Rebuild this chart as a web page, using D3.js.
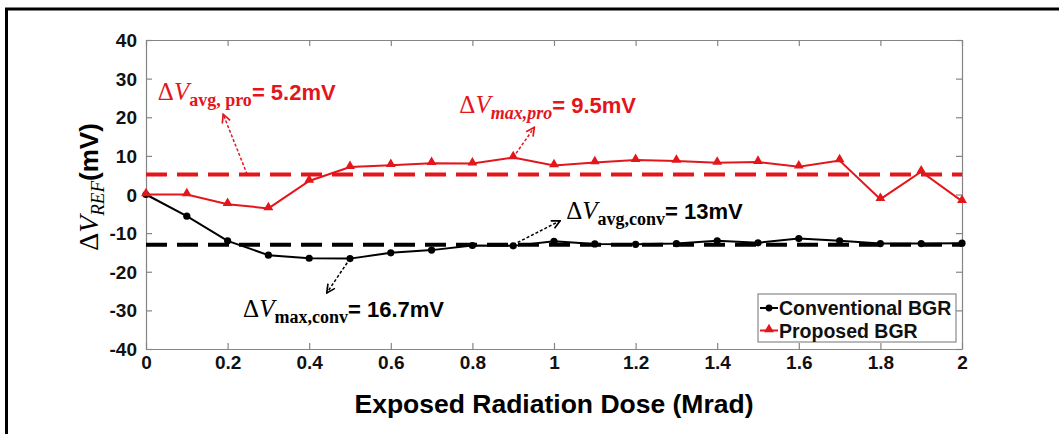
<!DOCTYPE html>
<html>
<head>
<meta charset="utf-8">
<script src="https://cdn.jsdelivr.net/npm/d3@7"></script>
<style>
  body { margin: 0; background: #fff; }
  svg { display: block; }
  text { font-family: Arial, "Liberation Sans", sans-serif; }
</style>
</head>
<body>
<svg id="chart" width="1059" height="434"></svg>
<script>
// data
var dose = [0, 0.1, 0.2, 0.3, 0.4, 0.5, 0.6, 0.7, 0.8, 0.9, 1.0, 1.1, 1.2, 1.3, 1.4, 1.5, 1.6, 1.7, 1.8, 1.9, 2.0];
var convBGR = [0, -5.6, -12, -15.7, -16.5, -16.6, -15.1, -14.4, -13.2, -13.3, -12.1, -12.8, -12.9, -12.7, -12, -12.5, -11.4, -12, -12.7, -12.7, -12.6];
var propBGR = [0, 0, -2.5, -3.6, 3.5, 7.1, 7.6, 8.1, 8, 9.6, 7.5, 8.3, 8.9, 8.7, 8.2, 8.4, 7.2, 8.8, -1.2, 5.9, -1.7];
var avgConv = -13, avgPro = 5.2;
var xTicks = [0, 0.2, 0.4, 0.6, 0.8, 1, 1.2, 1.4, 1.6, 1.8, 2];
var yTicks = [-40, -30, -20, -10, 0, 10, 20, 30, 40];
var legendNames = ["Conventional BGR", "Proposed BGR"];

var RED = "#e3161c", BLK = "#000";
var margin = {left: 146, top: 40, right: 962, bottom: 349};

var svg = d3.select("#chart");
var x = d3.scaleLinear().domain([0, 2]).range([margin.left, margin.right]);
var y = d3.scaleLinear().domain([-40, 40]).range([margin.bottom, margin.top]);

// outer frame of the figure
svg.append("rect").attr("x", 6.5).attr("y", 9).attr("width", 1100).attr("height", 500)
  .attr("fill", "none").attr("stroke", "#000").attr("stroke-width", 3);

// axes, matlab-like box with inward ticks
var axColor = "#858585";
function styleAxis(g) {
  g.select(".domain").attr("stroke", axColor).attr("stroke-width", 1.2);
  g.selectAll(".tick line").attr("stroke", axColor).attr("stroke-width", 1.2);
  g.selectAll(".tick text").attr("fill", "#111").attr("dy", null)
    .style("font-size", "19px").style("font-weight", "bold");
}
var fmt = function (d) { return String(d); }; // plain hyphen minus like the figure
svg.append("g").attr("transform", "translate(0," + margin.bottom + ")")
  .call(d3.axisBottom(x).tickValues(xTicks).tickFormat(fmt).tickSizeInner(-6).tickSizeOuter(0).tickPadding(6))
  .call(styleAxis)
  .selectAll(".tick text").attr("dominant-baseline", "hanging");
svg.append("g").attr("transform", "translate(0," + margin.top + ")")
  .call(d3.axisTop(x).tickValues(xTicks).tickSizeInner(-6).tickSizeOuter(0))
  .call(styleAxis)
  .selectAll(".tick text").remove();
svg.append("g").attr("transform", "translate(" + margin.left + ",0)")
  .call(d3.axisLeft(y).tickValues(yTicks).tickFormat(fmt).tickSizeInner(-6).tickSizeOuter(0).tickPadding(9))
  .call(styleAxis)
  .selectAll(".tick text").attr("dominant-baseline", "central");
svg.append("g").attr("transform", "translate(" + margin.right + ",0)")
  .call(d3.axisRight(y).tickValues(yTicks).tickSizeInner(-6).tickSizeOuter(0))
  .call(styleAxis)
  .selectAll(".tick text").remove();

// axis titles
svg.append("text").attr("x", 554).attr("y", 413).attr("text-anchor", "middle")
  .style("font-size", "26.5px").style("font-weight", "bold").text("Exposed Radiation Dose (Mrad)");

var serif = "'Liberation Serif', 'DejaVu Serif', serif";
var yt = svg.append("text").attr("transform", "translate(98,187) rotate(-90)").attr("text-anchor", "middle");
yt.append("tspan").style("font-family", serif).style("font-size", "28px").text("Δ");
yt.append("tspan").style("font-family", serif).style("font-style", "italic").style("font-size", "28px").text("V");
yt.append("tspan").attr("dy", 6).style("font-family", serif).style("font-style", "italic").style("font-size", "19px").text("REF");
yt.append("tspan").attr("dy", -6).style("font-size", "26px").style("font-weight", "bold").text("(mV)");

// average lines
var avgLines = [{v: avgPro, c: RED}, {v: avgConv, c: BLK}];
svg.selectAll(".avg").data(avgLines).enter().append("line").attr("class", "avg")
  .attr("x1", x(0)).attr("x2", x(2)).attr("y1", function (d) { return y(d.v); }).attr("y2", function (d) { return y(d.v); })
  .attr("stroke", function (d) { return d.c; }).attr("stroke-width", 4).attr("stroke-dasharray", "21,10");

// series
var line = d3.line().x(function (d) { return x(d[0]); }).y(function (d) { return y(d[1]); });
var convPts = d3.zip(dose, convBGR), propPts = d3.zip(dose, propBGR);
var tri = d3.symbol().type(d3.symbolTriangle).size(42);

svg.append("path").datum(convPts).attr("d", line).attr("fill", "none").attr("stroke", BLK).attr("stroke-width", 2);
svg.selectAll(".cdot").data(convPts).enter().append("circle").attr("class", "cdot")
  .attr("cx", function (d) { return x(d[0]); }).attr("cy", function (d) { return y(d[1]); }).attr("r", 3.6).attr("fill", BLK);

svg.append("path").datum(propPts).attr("d", line).attr("fill", "none").attr("stroke", RED).attr("stroke-width", 2);
svg.selectAll(".ptri").data(propPts).enter().append("path").attr("class", "ptri").attr("d", tri)
  .attr("transform", function (d) { return "translate(" + x(d[0]) + "," + (y(d[1]) - 1) + ")"; }).attr("fill", RED);

// annotations: arrow tail on the data, tip near the label
var defs = svg.append("defs");
[["arRed", RED], ["arBlk", BLK]].forEach(function (m) {
  defs.append("marker").attr("id", m[0]).attr("viewBox", "0 0 10 10").attr("refX", 9).attr("refY", 5)
    .attr("markerWidth", 7).attr("markerHeight", 7).attr("orient", "auto")
    .append("path").attr("d", "M1,1 L9,5 L1,9").attr("fill", "none").attr("stroke", m[1]).attr("stroke-width", 1.6);
});
var arrows = [
  {from: [0.248, avgPro], to: [0.189, 20.8], c: RED, m: "arRed"},
  {from: [0.9, 9.6], to: [0.952, 17.4], c: RED, m: "arRed"},
  {from: [0.9, avgConv], to: [1.015, -6.8], c: BLK, m: "arBlk"},
  {from: [0.5, -16.6], to: [0.443, -25.5], c: BLK, m: "arBlk"}
];
svg.selectAll(".arrow").data(arrows).enter().append("line").attr("class", "arrow")
  .attr("x1", function (d) { return x(d.from[0]); }).attr("y1", function (d) { return y(d.from[1]); })
  .attr("x2", function (d) { return x(d.to[0]); }).attr("y2", function (d) { return y(d.to[1]); })
  .attr("stroke", function (d) { return d.c; }).attr("stroke-width", 1.5).attr("stroke-dasharray", "3,2")
  .attr("marker-end", function (d) { return "url(#" + d.m + ")"; });

var labels = [
  {at: [0.029, 24.5], sub: "avg, pro", subItalic: false, val: "= 5.2mV", c: RED},
  {at: [0.768, 21.0], sub: "max,pro", subItalic: true, val: "= 9.5mV", c: RED},
  {at: [1.03, -6.4], sub: "avg,conv", subItalic: false, val: "= 13mV", c: BLK},
  {at: [0.238, -31.7], sub: "max,conv", subItalic: false, val: "= 16.7mV", c: BLK}
];
labels.forEach(function (l) {
  var t = svg.append("text").attr("x", x(l.at[0])).attr("y", y(l.at[1])).attr("fill", l.c);
  t.append("tspan").style("font-family", serif).style("font-size", "25px").text("Δ");
  t.append("tspan").style("font-family", serif).style("font-style", "italic").style("font-size", "25px").text("V");
  t.append("tspan").attr("dy", 6).style("font-family", serif).style("font-weight", "bold")
    .style("font-style", l.subItalic ? "italic" : "normal").style("font-size", "18px").text(l.sub);
  t.append("tspan").attr("dy", -6).style("font-weight", "bold").style("font-size", "22px").text(l.val);
});

// legend
var lg = svg.append("g").attr("transform", "translate(758,294)");
lg.append("rect").attr("width", 198).attr("height", 48).attr("fill", "#fff").attr("stroke", "#8a8a8a").attr("stroke-width", 1.2);
var items = lg.selectAll(".item").data(legendNames).enter().append("g").attr("class", "item")
  .attr("transform", function (d, i) { return "translate(0," + (14 + i * 22.5) + ")"; });
items.append("line").attr("x1", 2).attr("x2", 20).attr("stroke", function (d, i) { return i ? RED : BLK; }).attr("stroke-width", 2);
items.each(function (d, i) {
  var g = d3.select(this);
  if (i === 0) g.append("circle").attr("cx", 11).attr("r", 3.4).attr("fill", BLK);
  else g.append("path").attr("d", tri).attr("transform", "translate(11,-1)").attr("fill", RED);
});
items.append("text").attr("x", 21).attr("dominant-baseline", "central")
  .style("font-size", "19.5px").style("font-weight", "bold").attr("fill", "#111").text(function (d) { return d; });
</script>
</body>
</html>
